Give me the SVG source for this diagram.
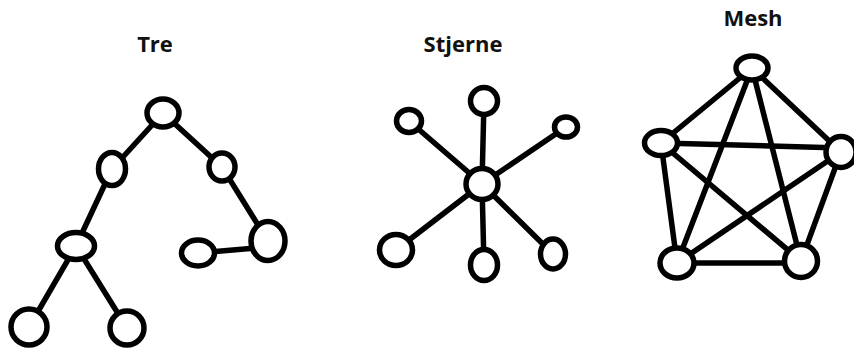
<svg xmlns="http://www.w3.org/2000/svg" width="854" height="351" viewBox="0 0 854 351">
  <style>
    .title { font-family: "Open Sans", "Liberation Sans", sans-serif; font-weight: bold; font-size: 22px; fill: #111; text-anchor: middle; }
    .node { fill: #fff; stroke: #000; stroke-width: 5.5; }
    .edge { stroke: #000; stroke-width: 5.5; stroke-linecap: round; fill: none; }
  </style>
  <rect width="854" height="351" fill="#fff"/>

  <!-- titles -->
  <text class="title" x="155" y="52">Tre</text>
  <text class="title" x="463" y="52">Stjerne</text>
  <text class="title" x="753" y="26">Mesh</text>

  <!-- connectors -->
  <g id="connectors">
    <!-- tree -->
    <line class="edge" x1="163" y1="113" x2="112" y2="169"/>
    <line class="edge" x1="163" y1="113" x2="222" y2="167"/>
    <line class="edge" x1="112" y1="169" x2="76" y2="246"/>
    <line class="edge" x1="222" y1="167" x2="268" y2="241"/>
    <line class="edge" x1="198" y1="253" x2="268" y2="247"/>
    <line class="edge" x1="76" y1="246" x2="29" y2="327"/>
    <line class="edge" x1="76" y1="246" x2="127" y2="328"/>
    <!-- star -->
    <line class="edge" x1="482" y1="184" x2="484" y2="101"/>
    <line class="edge" x1="482" y1="184" x2="409" y2="121"/>
    <line class="edge" x1="482" y1="184" x2="566" y2="127"/>
    <line class="edge" x1="482" y1="184" x2="396" y2="250"/>
    <line class="edge" x1="482" y1="184" x2="484" y2="265"/>
    <line class="edge" x1="482" y1="184" x2="553" y2="254"/>
    <!-- mesh -->
    <line class="edge" x1="752" y1="68" x2="661" y2="143"/>
    <line class="edge" x1="752" y1="68" x2="841" y2="152"/>
    <line class="edge" x1="752" y1="68" x2="677" y2="263"/>
    <line class="edge" x1="752" y1="68" x2="801" y2="261"/>
    <line class="edge" x1="661" y1="143" x2="841" y2="148"/>
    <line class="edge" x1="661" y1="143" x2="677" y2="263"/>
    <line class="edge" x1="661" y1="143" x2="801" y2="261"/>
    <line class="edge" x1="841" y1="152" x2="677" y2="263"/>
    <line class="edge" x1="841" y1="152" x2="801" y2="261"/>
    <line class="edge" x1="677" y1="263" x2="801" y2="263"/>
  </g>

  <!-- tree nodes -->
  <g id="tre-root"><ellipse class="node" cx="163" cy="113" rx="16" ry="14"/></g>
  <g id="tre-a"><ellipse class="node" cx="112" cy="169" rx="13.5" ry="16.5"/></g>
  <g id="tre-b"><ellipse class="node" cx="222" cy="167" rx="13" ry="14"/></g>
  <g id="tre-a1"><ellipse class="node" cx="76" cy="246" rx="18.5" ry="13.5"/></g>
  <g id="tre-b1"><ellipse class="node" cx="268" cy="241" rx="17" ry="19.5"/></g>
  <g id="tre-b2"><ellipse class="node" cx="198" cy="253" rx="16.5" ry="13"/></g>
  <g id="tre-a2"><ellipse class="node" cx="29" cy="327" rx="18" ry="18"/></g>
  <g id="tre-a3"><ellipse class="node" cx="127" cy="328" rx="17" ry="17"/></g>

  <!-- star nodes -->
  <g id="stjerne-hub"><ellipse class="node" cx="482" cy="184" rx="16" ry="15.5"/></g>
  <g id="stjerne-n"><ellipse class="node" cx="484" cy="101" rx="13.5" ry="13.5"/></g>
  <g id="stjerne-nw"><ellipse class="node" cx="409" cy="121" rx="12.5" ry="11.5"/></g>
  <g id="stjerne-ne"><ellipse class="node" cx="566" cy="127" rx="11.5" ry="10"/></g>
  <g id="stjerne-sw"><ellipse class="node" cx="396" cy="250" rx="16.5" ry="15.5"/></g>
  <g id="stjerne-s"><ellipse class="node" cx="484" cy="265" rx="13.5" ry="15.5"/></g>
  <g id="stjerne-se"><ellipse class="node" cx="553" cy="254" rx="12.5" ry="15"/></g>

  <!-- mesh nodes -->
  <g id="mesh-top"><ellipse class="node" cx="752" cy="68" rx="16" ry="12"/></g>
  <g id="mesh-left"><ellipse class="node" cx="661" cy="143" rx="16.5" ry="12.5"/></g>
  <g id="mesh-right"><ellipse class="node" cx="841" cy="152" rx="15" ry="15.5"/></g>
  <g id="mesh-bl"><ellipse class="node" cx="677" cy="263" rx="17" ry="15"/></g>
  <g id="mesh-br"><ellipse class="node" cx="801" cy="261" rx="16.5" ry="16.5"/></g>
</svg>
